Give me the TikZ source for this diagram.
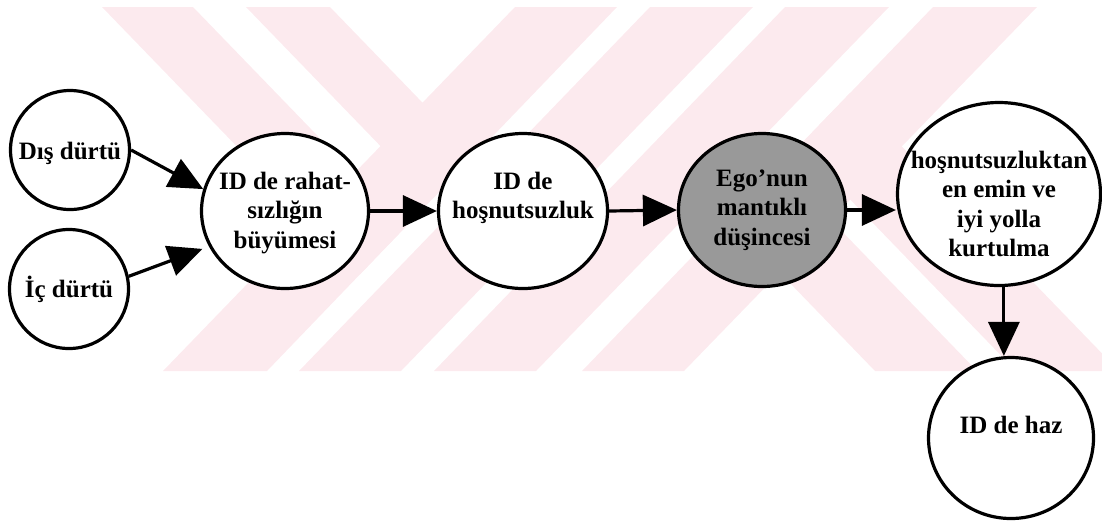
\documentclass[tikz,border=0pt]{standalone}
\usepackage{fontspec}
\setmainfont{Liberation Serif}
\usetikzlibrary{arrows.meta,shapes.geometric}

\definecolor{wmpink}{RGB}{252,234,238}
\newcommand{\bubblefont}{\fontsize{25}{29.5}\selectfont\bfseries}

\tikzset{
  bubble/.style={ellipse, draw, line width=3.2pt, inner sep=0pt, fill=white},
  bubbletext/.style={font=\bubblefont, align=center, inner sep=0pt},
  arr/.style={line width=3.2pt, -{Triangle[length=34pt,width=31pt]}},
}

\begin{document}
\begin{tikzpicture}[x=1pt,y=-1pt]
\useasboundingbox (0,0) rectangle (1102,523);

% Watermark bands
\begin{scope}
\clip (0,0) rectangle (1102,523);
\fill[wmpink] (515,7) -- (617,7) -- (267,371) -- (163,371) -- cycle;
\fill[wmpink] (650,7) -- (753,7) -- (401,371) -- (299,371) -- cycle;
\fill[wmpink] (785,7) -- (889,7) -- (536,371) -- (434,371) -- cycle;
\fill[wmpink] (933,7) -- (1037,7) -- (684,371) -- (582,371) -- cycle;
\fill[wmpink] (102,7) -- (193,7) -- (intersection of 193,7--545,371 and 617,7--267,371)
  -- (intersection of 102,7--454,371 and 617,7--267,371) -- cycle;
\fill[wmpink] (246,7) -- (330,7) -- (intersection of 330,7--682,371 and 617,7--267,371)
  -- (intersection of 246,7--598,371 and 617,7--267,371) -- cycle;
\fill[wmpink] (intersection of 523,7--875,371 and 933,7--582,371)
  -- (intersection of 625,7--977,371 and 933,7--582,371) -- (977,371) -- (875,371) -- cycle;
\fill[wmpink] (intersection of 664,7--1016,371 and 933,7--582,371)
  -- (intersection of 767,7--1119,371 and 933,7--582,371) -- (1119,371) -- (1016,371) -- cycle;
\end{scope}

% Bubbles
\node[bubble, minimum width=119pt, minimum height=119pt,
  label={[bubbletext, yshift=-3pt]center:Dış dürtü}] (dis) at (70,150) {};
\node[bubble, minimum width=119pt, minimum height=119pt,
  label={[bubbletext]center:İç dürtü}] (ic) at (69,289) {};
\node[bubble, minimum width=167pt, minimum height=155pt,
  label={[bubbletext, yshift=-2pt]center:{ID de rahat-\\sızlığın\\büyümesi}}] (rahatsizlik) at (285,211) {};
\node[bubble, minimum width=169pt, minimum height=155pt,
  label={[bubbletext, yshift=13pt]center:{ID de\\hoşnutsuzluk}}] (hosnut) at (523,211) {};
\node[bubble, fill=black!40, minimum width=167pt, minimum height=153pt,
  label={[bubbletext]center:{Ego'nun\\mantıklı\\düşincesi}}] (ego) at (762,210) {};
\node[bubble, minimum width=203pt, minimum height=183pt,
  label={[bubbletext, yshift=-10pt]center:{hoşnutsuzluktan\\en emin ve\\iyi yolla\\kurtulma}}] (kurtulma) at (999,194) {};
\node[bubble, minimum width=165pt, minimum height=161pt,
  label={[bubbletext, yshift=13pt]center:ID de haz}] (haz) at (1011,438) {};

% Arrows
\draw[arr] (dis.east) -- (rahatsizlik.165);
\draw[arr, shorten >=7pt] (ic.12) -- (rahatsizlik.205);
\draw[arr] (rahatsizlik.east) -- (hosnut.west);
\draw[arr] (hosnut.east) -- (ego.west);
\draw[arr] (ego.east) -- (ego.east -| kurtulma.west);
\draw[arr] (kurtulma.-87) -- (kurtulma.-87 |- haz.north);

\end{tikzpicture}
\end{document}
